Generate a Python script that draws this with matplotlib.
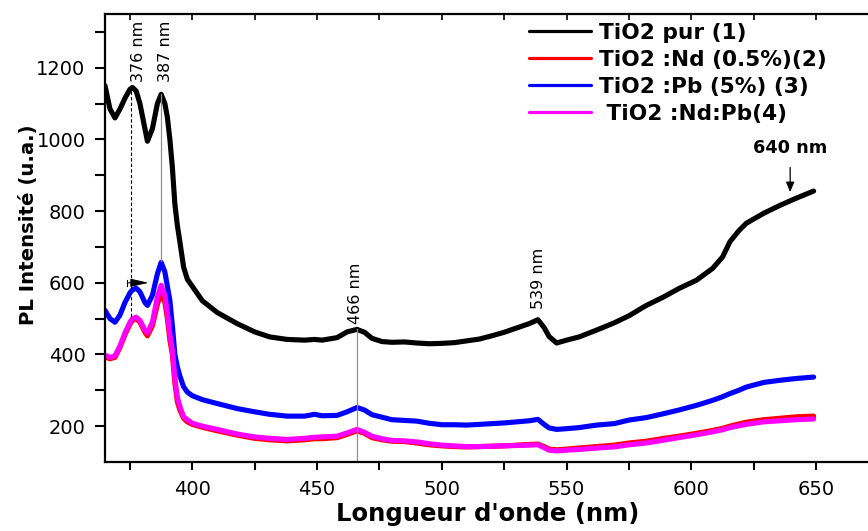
import matplotlib
matplotlib.use("Agg")
import matplotlib.pyplot as plt
from matplotlib.lines import TICKDOWN


# Wavelength (nm)
wavelength = [365, 367, 369, 371, 373, 375, 376, 377.5, 379, 381, 382, 384, 386, 387.5,
              389, 390, 391, 392, 393, 394, 395, 396.5, 398, 400, 404, 410, 418, 425,
              431, 438, 445, 449, 452, 458, 462, 466, 469, 472, 476, 480, 485, 490,
              495, 500, 505, 510, 515, 520, 525, 530, 535, 538.5, 541, 543, 546, 550,
              555, 562, 569, 575, 582, 589, 595, 602, 608.5, 612.5, 615.5, 619, 622,
              629, 635.5, 642, 649]

# PL intensity (u.a.) for each sample
tio2_pur = [1150, 1085, 1060, 1085, 1115, 1140, 1145, 1135, 1100, 1030, 995, 1030, 1100, 1126,
            1100, 1062, 1000, 922, 820, 760, 715, 644, 610, 590, 550, 517, 486, 463,
            449, 442, 440, 442, 440, 447, 463, 470, 462, 445, 436, 434, 435, 432,
            430, 431, 433, 438, 443, 452, 462, 474, 486, 497, 475, 450, 432, 440,
            449, 468, 488, 508, 537, 561, 584, 607, 640, 672, 715, 745, 766,
            794, 816, 836, 856]

tio2_nd = [393, 388, 392, 420, 455, 485, 495, 500, 490, 462, 452, 480, 540, 572,
           545, 500, 440, 400, 320, 268, 245, 222, 212, 205, 197, 187, 175, 166,
           162, 159, 162, 165, 165, 168, 177, 187, 180, 168, 162, 158, 157, 153,
           148, 145, 143, 142, 143, 144, 145, 147, 149, 150, 143, 136, 134, 136,
           139, 143, 147, 153, 158, 166, 172, 180, 188, 194, 200, 206, 211,
           218, 222, 226, 228]

tio2_pb = [523, 500, 490, 510, 545, 572, 580, 585, 575, 545, 537, 565, 625, 657,
           630, 590, 551, 480, 400, 365, 340, 310, 295, 285, 274, 263, 249, 240,
           233, 228, 228, 233, 229, 230, 240, 252, 245, 232, 225, 218, 216, 214,
           208, 204, 204, 203, 205, 207, 209, 212, 215, 219, 205, 195, 191, 193,
           196, 203, 207, 217, 224, 235, 245, 258, 272, 282, 291, 300, 309,
           322, 328, 333, 337]

tio2_nd_pb = [398, 392, 396, 424, 460, 490, 500, 504, 495, 468, 460, 490, 560, 593,
              565, 515, 455, 412, 335, 280, 255, 226, 218, 208, 200, 191, 178, 170,
              166, 163, 166, 169, 170, 172, 181, 191, 183, 172, 165, 160, 159, 156,
              151, 147, 145, 143, 143, 144, 145, 146, 147, 148, 140, 133, 131, 133,
              135, 139, 142, 148, 153, 161, 168, 176, 184, 190, 196, 201, 205,
              212, 215, 218, 220]

labels = ["TiO2 pur (1)", "TiO2 :Nd (0.5%)(2)", "TiO2 :Pb (5%) (3)", " TiO2 :Nd:Pb(4)"]
colors = ["#000000", "#ff0000", "#0000ff", "#ff00ff"]


fig = plt.figure(figsize=(8.68, 5.31), dpi=100)
ax = fig.add_axes([105 / 868, 69 / 531, 766 / 868, 448 / 531])

# Draw the spectra
for values, label, color in zip([tio2_pur, tio2_nd, tio2_pb, tio2_nd_pb], labels, colors):
    ax.plot(wavelength, values, color=color, lw=3.7, label=label, solid_capstyle="round")

ax.set_xlim(365, 672)
ax.set_ylim(100, 1350)

# Peak markers
ax.plot([375.4, 375.4], [1135, 505], color="black", lw=0.8, ls=(0, (3, 2)))
ax.plot([387.4, 387.4], [1126, 660], color="#909090", lw=0.9)
ax.plot([466, 466], [470, 100], color="#909090", lw=0.9)
ax.annotate("", xy=(382.5, 600), xytext=(374, 600),
            arrowprops=dict(arrowstyle="-|>,head_length=1.1,head_width=0.25",
                            color="black", lw=0.8, shrinkA=0, shrinkB=0))
ax.plot([374, 374], [592, 608], color="black", lw=0.8)
ax.annotate("", xy=(639.6, 853), xytext=(639.6, 922),
            arrowprops=dict(arrowstyle="-|>,head_length=0.6,head_width=0.25",
                            color="black", lw=0.9, shrinkA=0, shrinkB=0))

ax.text(378.4, 1160, "376 nm", rotation=90, ha="center", va="bottom", fontsize=11.5)
ax.text(389.2, 1160, "387 nm", rotation=90, ha="center", va="bottom", fontsize=11.5)
ax.text(465.4, 484, "466 nm", rotation=90, ha="center", va="bottom", fontsize=11.5)
ax.text(538.8, 527, "539 nm", rotation=90, ha="center", va="bottom", fontsize=11.5)
ax.text(639.6, 975, "640 nm", ha="center", va="center", fontsize=12.7, fontweight="bold")

# Axes styling
ax.set_xticks([400, 450, 500, 550, 600, 650])
ax.set_xticks([375, 425, 475, 525, 575, 625], minor=True)
ax.set_yticks([200, 400, 600, 800, 1000, 1200])
ax.set_yticks([300, 500, 700, 900, 1100, 1300], minor=True)
ax.tick_params(axis="both", which="both", direction="out", width=1.5, labelsize=14)
ax.tick_params(axis="y", which="both", length=7.5, pad=6.5)
ax.tick_params(axis="x", which="both", length=6, pad=7, top=True, labeltop=False)
for spine in ax.spines.values():
    spine.set_linewidth(1.6)
ax.spines["right"].set_visible(False)

# top ticks point inward and are shorter than the bottom ones
for tick in ax.xaxis.get_major_ticks() + ax.xaxis.get_minor_ticks():
    tick.tick2line.set_marker(TICKDOWN)
    tick.tick2line.set_markersize(4)
    tick.tick2line.set_markeredgewidth(1.2)

ax.set_xlabel("Longueur d'onde (nm)", fontsize=17.5, fontweight="bold", labelpad=2)
ax.set_ylabel("PL Intensité (u.a.)", fontsize=14.2, fontweight="bold")
ax.yaxis.set_label_coords(-0.088, 0.529)

leg = ax.legend(loc="upper left", bbox_to_anchor=(529 / 868, 1 - 23 / 531),
                bbox_transform=fig.transFigure, frameon=False, borderpad=0,
                borderaxespad=0, handlelength=2.85, handletextpad=0.4,
                labelspacing=0.32, prop={"weight": "bold", "size": 15.6})
for line in leg.get_lines():
    line.set_linewidth(2.3)

fig.savefig("out.png", dpi=100)
